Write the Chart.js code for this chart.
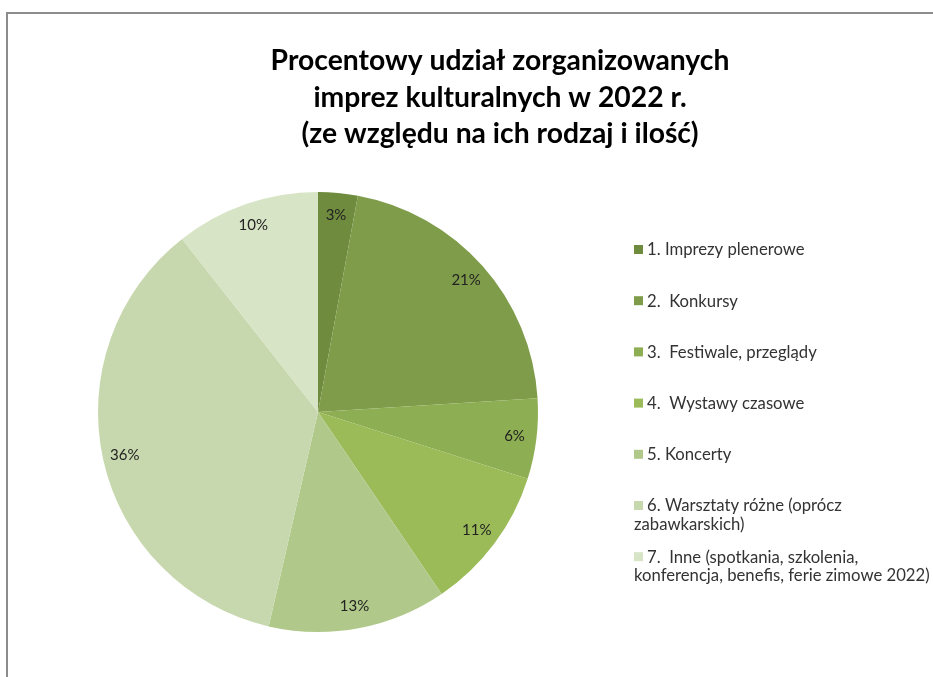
<!DOCTYPE html>
<html>
<head>
<meta charset="utf-8">
<script src="https://cdn.jsdelivr.net/npm/chart.js@4"></script>
<style>
html,body{margin:0;padding:0;background:#fff;}
#wrap{position:relative;width:933px;height:677px;}
canvas{display:block;}
</style>
</head>
<body>
<div id="wrap"><canvas id="c" width="933" height="677"></canvas></div>
<script>
const titleLines = ["Procentowy udział zorganizowanych", "imprez kulturalnych w 2022 r.", "(ze względu na ich rodzaj i ilość)"];
const categories = [
  ["1. Imprezy plenerowe"],
  ["2.  Konkursy"],
  ["3.  Festiwale, przeglądy"],
  ["4.  Wystawy czasowe"],
  ["5. Koncerty"],
  ["6. Warsztaty różne (oprócz", "zabawkarskich)"],
  ["7.  Inne (spotkania, szkolenia,", "konferencja, benefis, ferie zimowe 2022)"]
];
const shares = [2.9, 21.1, 5.9, 10.6, 13.1, 35.8, 10.6];
const percentLabels = ["3%", "21%", "6%", "11%", "13%", "36%", "10%"];
const colors = ["#6F8B3D", "#7F9C4A", "#8DAE52", "#9BBB59", "#B0C98A", "#C7D8AE", "#D8E4C6"];

const TFONT = "Lato, 'Open Sans', sans-serif";
const FONT = "Lato, 'Open Sans', sans-serif";

const decor = {
  id: 'decor',
  beforeDraw(chart) {
    const ctx = chart.ctx;
    ctx.save();
    ctx.fillStyle = '#fff';
    ctx.fillRect(0, 0, chart.width, chart.height);
    ctx.strokeStyle = '#8c8c8c';
    ctx.lineWidth = 2;
    ctx.beginPath();
    ctx.moveTo(7, 700);
    ctx.lineTo(7, 13);
    ctx.lineTo(940, 13);
    ctx.stroke();
    ctx.restore();
  },
  afterDraw(chart) {
    const ctx = chart.ctx;
    ctx.save();
    // title
    ctx.fillStyle = '#000';
    ctx.font = "bold 28.3px " + TFONT;
    ctx.textAlign = 'center';
    ctx.textBaseline = 'middle';
    titleLines.forEach((t, i) => ctx.fillText(t, 500, 61 + i * 36.5));
    // percent labels
    const meta = chart.getDatasetMeta(0);
    ctx.font = "15px " + FONT;
    ctx.fillStyle = '#222';
    meta.data.forEach((arc, i) => {
      const mid = (arc.startAngle + arc.endAngle) / 2;
      const r = arc.outerRadius * 0.9;
      ctx.fillText(percentLabels[i], arc.x + Math.cos(mid) * r, arc.y + Math.sin(mid) * r);
    });
    // legend
    ctx.textAlign = 'left';
    ctx.font = "16.7px " + FONT;
    categories.forEach((lines, i) => {
      const y = 250 + i * 51.2;
      ctx.fillStyle = colors[i];
      ctx.fillRect(634, y - 5, 9, 9);
      ctx.fillStyle = '#333';
      lines.forEach((ln, j) => ctx.fillText(ln, j === 0 ? 647 : 634, y + j * 18.8));
    });
    ctx.restore();
  }
};

new Chart(document.getElementById('c'), {
  type: 'pie',
  data: {
    labels: categories.map(c => c.join(' ')),
    datasets: [{ data: shares, backgroundColor: colors, borderWidth: 0 }]
  },
  options: {
    responsive: false,
    animation: false,
    layout: { padding: { left: 98, top: 192, right: 395, bottom: 45 } },
    plugins: { legend: { display: false }, title: { display: false }, tooltip: { enabled: false } }
  },
  plugins: [decor]
});
</script>
</body>
</html>
